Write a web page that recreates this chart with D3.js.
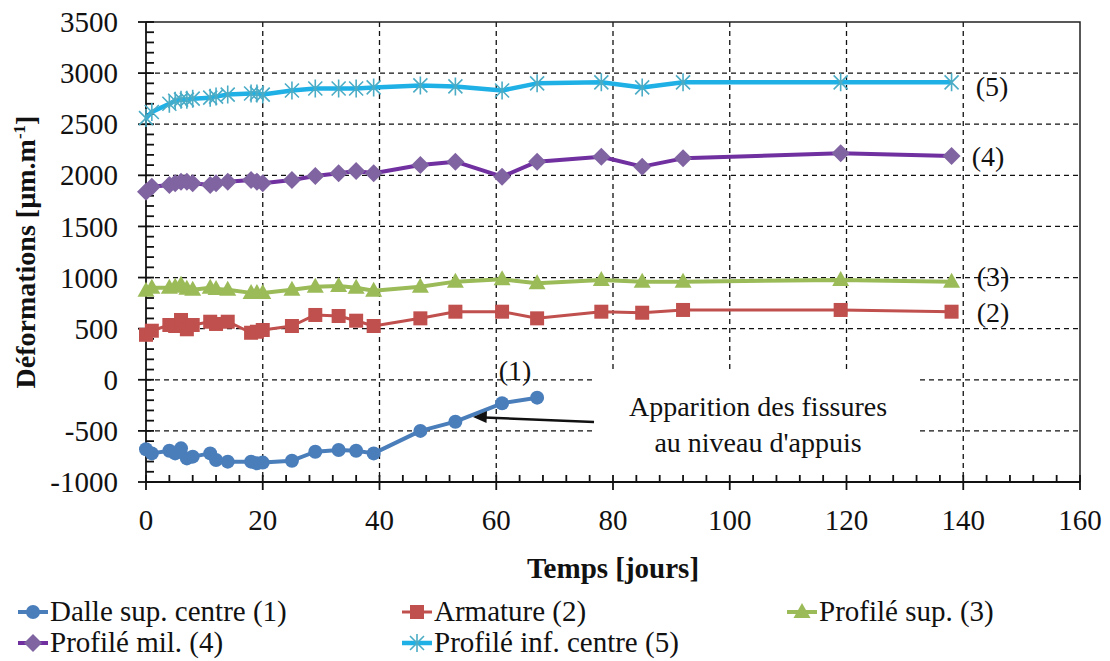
<!DOCTYPE html>
<html lang="fr">
<head>
<meta charset="UTF-8">
<title>Déformations</title>
<script src="https://d3js.org/d3.v7.min.js"></script>
<style>
  body { margin: 0; background: #fff; }
  text { font-family: "Liberation Serif", "Times New Roman", serif; fill: #111; }
</style>
</head>
<body>
<script>

    const width = 1110;
    const height = 661;

    // time points (days)
    const days = [0,1,4,5,6,7,8,11,12,14,18,19,20,25,29,33,36,39,47,53,61,67,78,85,92,119,138];

    // series values [µm/m]
    const dalle    = [-680,-720,-694,-720,-671,-769,-752,-720,-785,-801,-801,-817,-810,-792,-704,-687,-694,-720,-500,-410,-230,-175];
    const armature = [440,480,536,526,585,494,536,568,546,568,460,470,487,526,634,624,578,526,601,666,666,601,666,656,683,683,666];
    const profSup  = [870,900,900,910,930,890,880,900,888,880,850,850,850,880,910,917,900,870,910,960,983,944,976,960,960,976,960];
    const profMil  = [1840,1889,1905,1922,1938,1938,1922,1905,1922,1938,1954,1938,1922,1954,1993,2020,2042,2020,2101,2134,1987,2134,2182,2085,2166,2215,2189];
    const profInf  = [2560,2620,2700,2730,2740,2740,2750,2760,2770,2790,2800,2800,2790,2830,2850,2850,2850,2860,2880,2870,2830,2900,2910,2860,2910,2910,2910];

    const seriesNames = ["Dalle sup. centre (1)","Armature (2)","Profilé sup. (3)","Profilé mil. (4)","Profilé inf. centre (5)"];
    const xTicks = [0,20,40,60,80,100,120,140,160];
    const yTicks = [-1000,-500,0,500,1000,1500,2000,2500,3000,3500];

    const series = [
        {name: seriesNames[0], values: dalle,    line: "#4a7ebb", fill: "#4a7ebb", shape: "circle",   lw: 4,   tag: "(1)"},
        {name: seriesNames[1], values: armature, line: "#c0504d", fill: "#c0504d", shape: "square",   lw: 3,   tag: "(2)"},
        {name: seriesNames[2], values: profSup,  line: "#9bbb59", fill: "#9bbb59", shape: "triangle", lw: 4,   tag: "(3)"},
        {name: seriesNames[3], values: profMil,  line: "#7030a0", fill: "#8064a2", shape: "diamond",  lw: 4,   tag: "(4)"},
        {name: seriesNames[4], values: profInf,  line: "#1fb0e6", fill: "#4bacc6", shape: "star",     lw: 4.5, tag: "(5)"}
    ];

    const pLeft = 146, pRight = 1080, pTop = 22, pBottom = 482;
    const x = d3.scaleLinear().domain([0,160]).range([pLeft,pRight]);
    const y = d3.scaleLinear().domain([-1000,3500]).range([pBottom,pTop]);

    const svg = d3.select("body").append("svg").attr("width",width).attr("height",height);

    // grid
    const grid = svg.append("g").attr("stroke","#111").attr("stroke-width",1.3).attr("stroke-dasharray","5,4");
    xTicks.slice(1,-1).forEach(t => {
        grid.append("line").attr("x1",x(t)).attr("x2",x(t)).attr("y1",pTop).attr("y2",pBottom);
    });
    yTicks.slice(1,-1).forEach(t => {
        grid.append("line").attr("x1",pLeft).attr("x2",pRight).attr("y1",y(t)).attr("y2",y(t));
    });

    // white box behind the annotation
    svg.append("rect").attr("x",594).attr("y",370).attr("width",326).attr("height",pBottom-370-1).attr("fill","#fff");

    // frame top/right
    svg.append("path")
        .attr("d",`M${pLeft},${pTop}H${pRight}V${pBottom}`)
        .attr("fill","none").attr("stroke","#222").attr("stroke-width",1.5);

    // axes
    const ax = svg.append("g").attr("stroke","#111").attr("stroke-width",1.8);
    ax.append("line").attr("x1",pLeft).attr("x2",pLeft).attr("y1",pTop).attr("y2",pBottom);
    ax.append("line").attr("x1",pLeft).attr("x2",pRight).attr("y1",pBottom).attr("y2",pBottom);
    d3.range(-1000,3501,100).forEach(v => {
        const major = v % 500 === 0;
        ax.append("line").attr("x1",major ? pLeft-8 : pLeft).attr("x2",pLeft+8).attr("y1",y(v)).attr("y2",y(v));
    });
    d3.range(0,161,4).forEach(v => {
        const major = v % 20 === 0;
        ax.append("line").attr("x1",x(v)).attr("x2",x(v)).attr("y1",pBottom-7).attr("y2",major ? pBottom+8 : pBottom);
    });

    svg.append("g").selectAll("text").data(yTicks).join("text")
        .attr("x",118).attr("y",d => y(d)).attr("dy","0.35em")
        .attr("text-anchor","end").attr("font-size",29).text(d => d);

    svg.append("g").selectAll("text").data(xTicks).join("text")
        .attr("x",d => x(d)).attr("y",530)
        .attr("text-anchor","middle").attr("font-size",29).text(d => d);

    svg.append("text").attr("x",(pLeft+pRight)/2).attr("y",578)
        .attr("text-anchor","middle").attr("font-size",29).attr("font-weight","bold")
        .text("Temps [jours]");

    const yt = svg.append("text").attr("transform",`translate(35,${(pTop+pBottom)/2}) rotate(-90)`)
        .attr("text-anchor","middle").attr("font-size",28).attr("font-weight","bold");
    yt.append("tspan").text("Déformations [µm.m");
    yt.append("tspan").attr("font-size",17).attr("dy",-10).text("-1");
    yt.append("tspan").attr("dy",10).text("]");

    // markers
    function marker(g, shape, fill) {
        if (shape === "circle") g.append("circle").attr("r",7).attr("fill",fill);
        if (shape === "square") g.append("rect").attr("x",-7).attr("y",-7).attr("width",14).attr("height",14).attr("fill",fill);
        if (shape === "triangle") g.append("path").attr("d","M0,-9L8.5,6H-8.5Z").attr("fill",fill);
        if (shape === "diamond") g.append("path").attr("d","M0,-9L9,0L0,9L-9,0Z").attr("fill",fill);
        if (shape === "star") g.append("path").attr("d","M-7,-7L7,7M-7,7L7,-7M0,-9V9")
            .attr("stroke",fill).attr("stroke-width",1.6).attr("fill","none");
    }

    const line = d3.line().x(d => x(d[0])).y(d => y(d[1]));

    series.forEach(s => {
        const pts = s.values.map((v,i) => [days[i], v]);
        svg.append("path").datum(pts).attr("d",line)
            .attr("fill","none").attr("stroke",s.line).attr("stroke-width",s.lw)
            .attr("stroke-linejoin","round");
        pts.forEach(p => {
            const g = svg.append("g").attr("transform",`translate(${x(p[0])},${y(p[1])})`);
            marker(g, s.shape, s.fill);
        });
    });

    // series tags
    const tagPos = [[515,380],[993,322],[993,286],[988,166],[992,96]];
    series.forEach((s,i) => {
        svg.append("text").attr("x",tagPos[i][0]).attr("y",tagPos[i][1])
            .attr("text-anchor","middle").attr("font-size",28).text(s.tag);
    });

    // annotation
    svg.append("text").attr("x",758).attr("y",416).attr("text-anchor","middle")
        .attr("font-size",28).text("Apparition des fissures");
    svg.append("text").attr("x",758).attr("y",452).attr("text-anchor","middle")
        .attr("font-size",28).text("au niveau d'appuis");
    svg.append("line").attr("x1",594).attr("y1",422).attr("x2",484).attr("y2",417.5)
        .attr("stroke","#111").attr("stroke-width",2.5);
    svg.append("path").attr("d","M473,417L487,411L486.5,423Z").attr("fill","#111");

    // legend
    const legendPos = [[50,621],[434,621],[819,621],[50,652],[434,652]];
    series.forEach((s,i) => {
        const [lx,ly] = legendPos[i];
        const g = svg.append("g");
        g.append("line").attr("x1",lx-32).attr("x2",lx-2).attr("y1",ly-9).attr("y2",ly-9)
            .attr("stroke",s.line).attr("stroke-width",s.lw);
        const m = g.append("g").attr("transform",`translate(${lx-17},${ly-9})`);
        marker(m, s.shape, s.fill);
        g.append("text").attr("x",lx).attr("y",ly).attr("font-size",29).text(s.name);
    });

</script>
</body>
</html>
